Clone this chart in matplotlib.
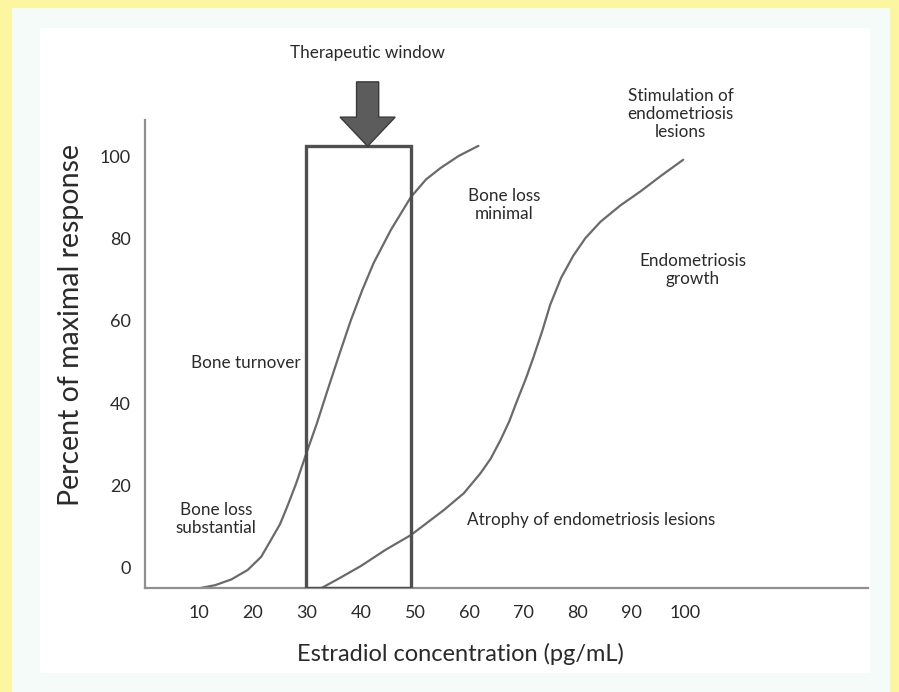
import matplotlib
matplotlib.use("Agg")
import matplotlib.pyplot as plt
from matplotlib.patches import Rectangle, FancyArrow

plt.rcParams['font.family'] = ['Lato', 'DejaVu Sans']

# ---- data ----
bone_x = [10.3, 13.0, 16.0, 19.0, 21.5, 23.3, 25.0, 26.4, 28.0, 29.8, 31.8, 33.8,
          36.0, 38.1, 40.2, 42.3, 45.5, 49.2, 52.0, 54.7, 58.0, 61.7]
bone_y = [-5.1, -4.4, -3.0, -0.7, 2.5, 6.6, 10.5, 15.0, 20.5, 27.5, 35.0, 43.2,
          52.0, 60.2, 67.5, 74.1, 82.2, 90.2, 94.5, 97.3, 100.2, 102.7]

endo_x = [32.0, 36.0, 40.0, 44.5, 49.2, 55.3, 59.0, 62.1, 64.0, 65.8, 67.4, 68.9,
          70.5, 71.9, 73.5, 75.0, 77.0, 79.3, 81.5, 84.3, 88.0, 91.7, 95.5, 99.6]
endo_y = [-5.6, -2.7, 0.3, 4.2, 7.8, 13.9, 18.0, 22.9, 26.5, 31.0, 35.5, 40.7,
          46.0, 51.2, 57.5, 64.0, 70.5, 76.0, 80.2, 84.2, 88.2, 91.6, 95.4, 99.3]

window_lo, window_hi, window_top = 29.8, 49.2, 102.6
xticks = [10, 20, 30, 40, 50, 60, 70, 80, 90, 100]
yticks = [0, 20, 40, 60, 80, 100]

W, H = 899, 692
fig = plt.figure(figsize=(W / 100, H / 100), dpi=100)
fig.patch.set_facecolor('#fcf6a0')

# background panels (figure pixel coords)
def px_rect(x0, y0, x1, y1, color):
    fig.patches.append(Rectangle((x0 / W, 1 - y1 / H), (x1 - x0) / W, (y1 - y0) / H,
                                 transform=fig.transFigure, facecolor=color,
                                 edgecolor='none', zorder=-10))
px_rect(12, 8, 890, 692, '#f4fbf8')
px_rect(40, 28, 870, 673, '#ffffff')

ax = fig.add_axes([145 / W, 1 - 588 / H, (868 - 145) / W, (588 - 120) / H])
ax.set_facecolor('none')
ax.set_xlim(0, 133.8)
ax.set_ylim(-5.1, 109)

curve_col = '#6a6a6a'
ax.plot(bone_x, bone_y, color=curve_col, lw=1.6, solid_capstyle='round')
ax.plot(endo_x, endo_y, color=curve_col, lw=1.6, solid_capstyle='round')

ax.add_patch(Rectangle((window_lo, -5.1), window_hi - window_lo, window_top + 5.1,
                       facecolor='none', edgecolor='#4f4f4f', lw=2.4, zorder=3))

arrow_x = 41.2
ax.add_patch(FancyArrow(arrow_x, 118.3, 0, -(118.3 - window_top), width=4.1,
                        head_width=10.2, head_length=7.1, length_includes_head=True,
                        facecolor='#5c5c5c', edgecolor='#3a3a3a', lw=1.0,
                        clip_on=False, zorder=4))

for s in ['top', 'right']:
    ax.spines[s].set_visible(False)
for s in ['left', 'bottom']:
    ax.spines[s].set_color('#8f8f8f')
    ax.spines[s].set_linewidth(1.6)

ax.set_xticks(xticks)
ax.set_yticks(yticks)
ax.tick_params(length=0, labelsize=13, colors='#2a2a2a')
ax.tick_params(axis='x', pad=12)
ax.tick_params(axis='y', pad=10)

ax.set_xlabel('Estradiol concentration (pg/mL)', fontsize=17, color='#2a2a2a', labelpad=17)
ax.set_ylabel('Percent of maximal response', fontsize=20.5, color='#2a2a2a', labelpad=10)
ax.xaxis.set_label_coords(0.436, -0.118)
ax.yaxis.set_label_coords(-0.084, 0.562)

tk = dict(fontsize=12.3, color='#2a2a2a', ha='center', va='center', linespacing=1.15)
ax.text(41.2, 125.4, 'Therapeutic window', clip_on=False, **tk)
ax.text(99.1, 110.5, 'Stimulation of\nendometriosis\nlesions', **tk)
ax.text(66.4, 88.2, 'Bone loss\nminimal', **tk)
ax.text(101.3, 72.4, 'Endometriosis\ngrowth', **tk)
ax.text(18.7, 49.8, 'Bone turnover', **tk)
ax.text(13.1, 11.8, 'Bone loss\nsubstantial', **tk)
ax.text(82.6, 11.5, 'Atrophy of endometriosis lesions', **tk)

fig.savefig('out.png', dpi=100, facecolor=fig.get_facecolor())
